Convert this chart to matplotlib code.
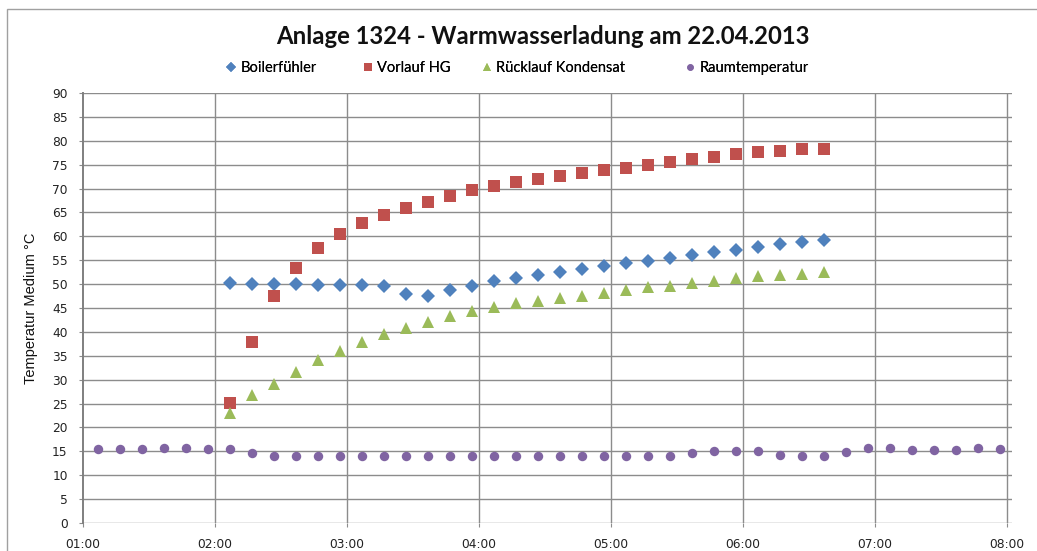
import matplotlib
matplotlib.use("Agg")
import matplotlib.pyplot as plt
from matplotlib.patches import Rectangle
import numpy as np

# ---------------------------------------------------------------------
# data -----------------------------------------------------------------
# ---------------------------------------------------------------------
TIMES = [
    "01:07", "01:17", "01:27", "01:37", "01:47", "01:57",
    "02:07", "02:17", "02:27", "02:37", "02:47", "02:57",
    "03:07", "03:17", "03:27", "03:37", "03:47", "03:57",
    "04:07", "04:17", "04:27", "04:37", "04:47", "04:57",
    "05:07", "05:17", "05:27", "05:37", "05:47", "05:57",
    "06:07", "06:17", "06:27", "06:37", "06:47", "06:57",
    "07:07", "07:17", "07:27", "07:37", "07:47", "07:57",
]
LOAD_START = 6   # first index of the charging run (02:07)
LOAD_END = 34    # one past last index (06:37)

boiler = [50.2, 50.1, 50.0, 50.0, 49.9, 49.9, 49.8, 49.7, 48.0, 47.5,
          48.7, 49.7, 50.6, 51.3, 51.9, 52.5, 53.1, 53.7, 54.4, 54.9,
          55.4, 56.1, 56.7, 57.2, 57.8, 58.4, 58.9, 59.3]
vorlauf = [25.1, 37.8, 47.5, 53.4, 57.5, 60.4, 62.7, 64.4, 66.0, 67.2,
           68.5, 69.7, 70.6, 71.4, 72.1, 72.7, 73.3, 73.9, 74.4, 74.9,
           75.5, 76.1, 76.6, 77.2, 77.7, 77.9, 78.2, 78.2]
ruecklauf = [23.0, 26.8, 29.0, 31.7, 34.1, 36.0, 37.9, 39.6, 40.8, 42.1,
             43.3, 44.3, 45.2, 46.0, 46.5, 47.1, 47.6, 48.2, 48.8, 49.3,
             49.7, 50.2, 50.7, 51.2, 51.6, 51.9, 52.2, 52.6]
raum = [15.5, 15.4, 15.5, 15.7, 15.6, 15.5, 15.5, 14.7, 14.1, 14.1,
        14.0, 14.0, 14.0, 14.0, 14.0, 14.1, 14.1, 14.1, 14.1, 14.0,
        14.0, 14.0, 14.0, 14.0, 14.0, 14.0, 14.0, 14.6, 15.0, 15.1,
        15.1, 14.3, 14.1, 14.1, 14.8, 15.6, 15.6, 15.3, 15.3, 15.3,
        15.7, 15.5]

X_TICKS = ["01:00", "02:00", "03:00", "04:00", "05:00", "06:00", "07:00", "08:00"]

COLORS = {
    "boiler": "#4F81BD",
    "vorlauf": "#C0504D",
    "ruecklauf": "#9BBB59",
    "raum": "#8064A2",
}
GRID = "#8C8C8C"

# legend marker x positions (pixels) as laid out in the picture
LEGEND_X = [231, 368, 487, 690]


def to_hours(s):
    h, m = s.split(":")
    return int(h) + int(m) / 60.0


t_all = np.array([to_hours(s) for s in TIMES])
t_load = t_all[LOAD_START:LOAD_END]

# ---------------------------------------------------------------------
# figure ---------------------------------------------------------------
# ---------------------------------------------------------------------
W, H = 1037, 551
fig = plt.figure(figsize=(W / 100, H / 100), dpi=100)
fig.patch.set_facecolor("white")

# chart-area frame (only left/top visible in the picture)
fig.patches.append(Rectangle((7 / W, -0.1), 1.2, 1 - 9 / H + 0.1,
                             transform=fig.transFigure, fill=False,
                             edgecolor="#A0A0A0", lw=1.0))

ax = fig.add_axes([83 / W, 28 / H, (1012 - 83) / W, (523 - 93) / H])

x0 = to_hours(X_TICKS[0])
x1 = to_hours(X_TICKS[-1])
ax.set_xlim(x0, x1 + 5 / 132.0)
ax.set_ylim(0, 90)

for sp in ax.spines.values():
    sp.set_visible(False)
ax.spines["left"].set_visible(True)
ax.spines["left"].set_color("#7F7F7F")
ax.spines["left"].set_linewidth(1.4)

ax.set_yticks(np.arange(0, 91, 5))
ax.set_xticks([to_hours(s) for s in X_TICKS])
ax.set_xticklabels(X_TICKS)
ax.tick_params(axis="both", labelsize=8.8, colors="#222222", length=3,
               width=0.8, direction="out")
ax.tick_params(axis="y", pad=8, color=GRID)
ax.tick_params(axis="x", pad=8, color=GRID)

for yv in np.arange(0, 91, 5):
    ax.axhline(yv, color=GRID, lw=1.0, zorder=0)
for xv in ax.get_xticks()[1:]:
    ax.axvline(xv, color=GRID, lw=1.0, zorder=0)

ax.set_ylabel("Temperatur Medium °C", fontsize=10.5, family="Liberation Sans",
              labelpad=10, color="#111111")

ax.plot(t_load, boiler, "D", ms=6.8, color=COLORS["boiler"], mew=0,
        label="Boilerfühler", zorder=3)
ax.plot(t_load, vorlauf, "s", ms=8.3, color=COLORS["vorlauf"], mew=0,
        label="Vorlauf HG", zorder=3)
ax.plot(t_load, ruecklauf, "^", ms=8.6, color=COLORS["ruecklauf"], mew=0,
        label="Rücklauf Kondensat", zorder=3)
ax.plot(t_all, raum, "o", ms=6.8, color=COLORS["raum"], mew=0,
        label="Raumtemperatur", zorder=3)

fig.text(0.5235, 1 - 37 / H, "Anlage 1324 - Warmwasserladung am 22.04.2013",
         ha="center", va="center", fontsize=17.2, fontweight="bold",
         family="Lato", color="#111111")

# one legend per entry so each sits where the picture has it
handles, labels = ax.get_legend_handles_labels()
fs = 10.5
half_handle_px = 0.7 * fs / 72 * 100 / 2
for h, l, px in zip(handles, labels, LEGEND_X):
    lg = fig.legend([h], [l], loc="center left",
                    bbox_to_anchor=((px - half_handle_px) / W, 1 - 68 / H),
                    frameon=False, prop={"family": "Lato", "size": fs},
                    markerscale=0.7, handlelength=0.7, handletextpad=0.3,
                    borderpad=0, borderaxespad=0)
    fig.add_artist(lg)

fig.savefig("out.png", dpi=100, facecolor="white")
